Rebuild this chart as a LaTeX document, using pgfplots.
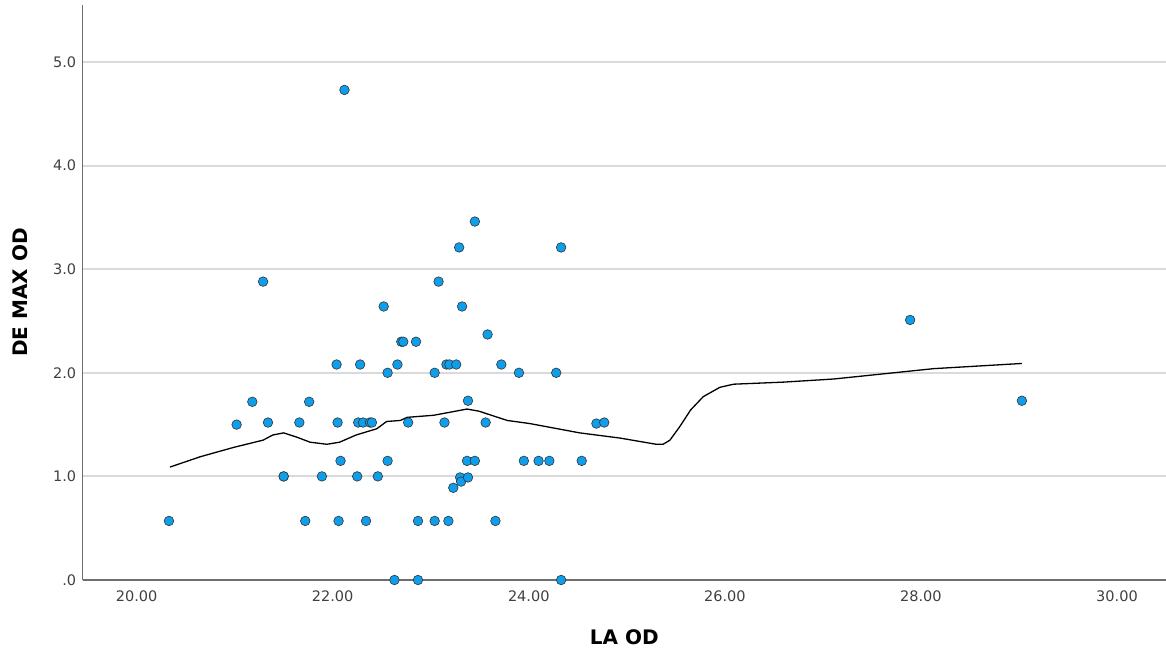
\documentclass[border=0pt]{standalone}
\usepackage{fontspec}
\setmainfont{DejaVu Sans}
\usepackage{pgfplots}
\pgfplotsset{compat=1.18}
\definecolor{ptc}{RGB}{15,158,235}
\definecolor{gridc}{RGB}{218,218,218}
\definecolor{axc}{RGB}{110,110,110}
\begin{document}
\begin{tikzpicture}[x=1pt,y=1pt]
\path[use as bounding box] (-82.7,-73) rectangle (1083.3,580);
\begin{axis}[at={(0,0)}, anchor=south west, scale only axis,
  width=1083.3pt, height=575pt,
  xmin=19.45, xmax=30.5, ymin=0, ymax=5.55,
  axis x line*=bottom, axis y line*=left,
  axis line style={axc, line width=1.2pt, -},
  xtick={20,22,24,26,28,30}, xticklabels={20.00,22.00,24.00,26.00,28.00,30.00},
  ytick={0,1,2,3,4,5}, yticklabels={.0,1.0,2.0,3.0,4.0,5.0},
  major tick length=0pt,
  ymajorgrids, major grid style={gridc, line width=2pt},
  /pgf/number format/assume math mode=true,
  tick label style={font=\fontsize{14.5}{16}\selectfont, text=black!75},
  xticklabel style={yshift=-7pt},
  yticklabel style={xshift=-3pt},
  xlabel={LA OD}, ylabel={DE MAX OD},
  label style={font=\fontsize{20}{24}\selectfont\bfseries},
  xlabel style={at={(axis description cs:0.5,0)}, anchor=center, yshift=-57pt},
  ylabel style={at={(axis description cs:0,0.5)}, anchor=center, yshift=62.7pt},
]
\addplot[black, line width=1.3pt] coordinates {
(20.34,1.09) (20.65,1.19) (20.99,1.28) (21.29,1.35) (21.39,1.40) (21.50,1.42)
(21.63,1.38) (21.77,1.33) (21.94,1.31) (22.07,1.33) (22.24,1.40) (22.45,1.46)
(22.55,1.53) (22.69,1.54) (22.76,1.57) (23.03,1.59) (23.20,1.62) (23.37,1.65)
(23.49,1.63) (23.78,1.54) (24.01,1.51) (24.52,1.42) (24.93,1.37) (25.30,1.31)
(25.37,1.31) (25.44,1.35) (25.54,1.48) (25.65,1.64) (25.78,1.77) (25.95,1.86)
(26.09,1.89) (26.60,1.91) (27.11,1.94) (27.62,1.99) (28.13,2.04) (29.03,2.09)
};
\addplot[only marks, mark=*, mark size=4.8pt,
  mark options={fill=ptc, draw=black!80, line width=0.6pt}] coordinates {
(20.33,0.57) (21.02,1.50) (21.18,1.72) (21.29,2.88) (21.34,1.52) (21.50,1.00)
(21.50,1.00) (21.66,1.52) (21.72,0.57) (21.76,1.72) (21.89,1.00) (22.04,2.08)
(22.05,1.52) (22.06,0.57) (22.08,1.15) (22.12,4.73) (22.25,1.00) (22.26,1.52)
(22.28,2.08) (22.31,1.52) (22.34,0.57) (22.38,1.52) (22.40,1.52) (22.46,1.00)
(22.52,2.64) (22.56,2.00) (22.56,1.15) (22.63,0.00) (22.66,2.08) (22.70,2.30)
(22.72,2.30) (22.77,1.52) (22.85,2.30) (22.87,0.57) (22.87,0.00) (23.04,2.00)
(23.04,0.57) (23.08,2.88) (23.14,1.52) (23.16,2.08) (23.18,0.57) (23.19,2.08)
(23.23,0.89) (23.26,2.08) (23.29,3.21) (23.30,0.99) (23.31,0.95) (23.32,2.64)
(23.37,1.15) (23.38,1.73) (23.38,0.99) (23.45,3.46) (23.45,1.15) (23.56,1.52)
(23.58,2.37) (23.66,0.57) (23.72,2.08) (23.90,2.00) (23.95,1.15) (24.10,1.15)
(24.21,1.15) (24.28,2.00) (24.33,3.21) (24.33,0.00) (24.54,1.15) (24.69,1.51)
(24.77,1.52) (27.89,2.51) (29.03,1.73)
};
\end{axis}
\end{tikzpicture}
\end{document}
